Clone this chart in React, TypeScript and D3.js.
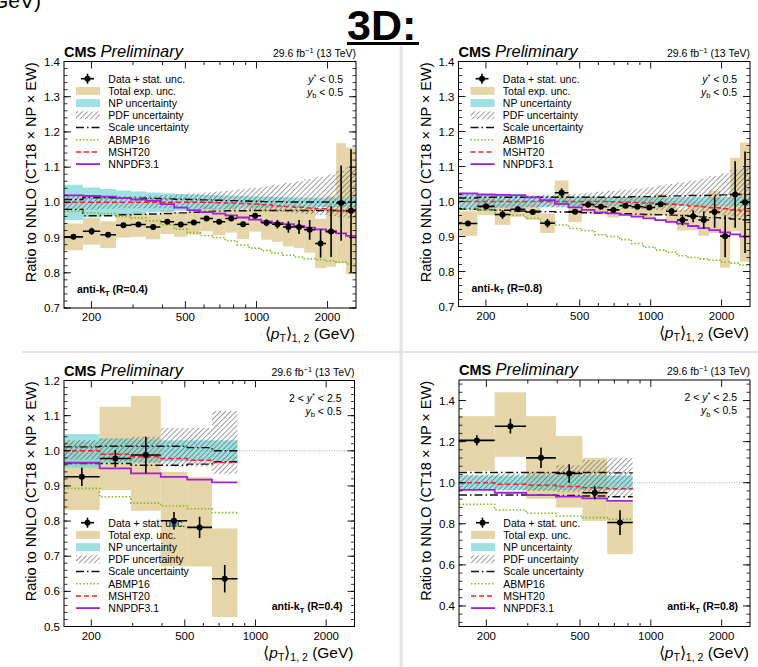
import React from 'react';
import * as d3 from 'd3';

const FONT = "'Liberation Sans', Arial, Helvetica, sans-serif";

// ---------- binning (GeV) ----------
const X_DOMAIN = [153, 2640];
const EDGES_TOP = [153, 184, 218, 254, 294, 340, 392, 448, 510, 578, 654, 738, 828, 931, 1046, 1163, 1294, 1440, 1593, 1772, 1971, 2176, 2396, 2640];
const EDGES_BOT = [153, 217, 295, 395, 512, 653, 838];
const X_TICKS = [200, 300, 400, 500, 600, 700, 800, 900, 1000, 2000];
const X_LABELS = [200, 500, 1000, 2000];
const LEGEND_LABELS = ['Data + stat. unc.', 'Total exp. unc.', 'NP uncertainty', 'PDF uncertainty', 'Scale uncertainty', 'ABMP16', 'MSHT20', 'NNPDF3.1'];

// ---------- top-left: y*<0.5, yb<0.5, R=0.4 ----------
const TL_DATA = [0.902, 0.918, 0.908, 0.935, 0.937, 0.930, 0.945, 0.937, 0.943, 0.954, 0.945, 0.954, 0.938, 0.962, 0.942, 0.938, 0.930, 0.930, 0.922, 0.883, 0.917, 0.998, 0.976];
const TL_STAT = [0.006, 0.01, 0.006, 0.007, 0.007, 0.006, 0.006, 0.006, 0.006, 0.006, 0.006, 0.006, 0.006, 0.008, 0.01, 0.012, 0.016, 0.02, 0.028, 0.04, 0.072, 0.107, 0.175];
const TL_TOT = [0.038, 0.038, 0.038, 0.035, 0.035, 0.035, 0.035, 0.035, 0.035, 0.036, 0.038, 0.04, 0.042, 0.045, 0.048, 0.05, 0.055, 0.06, 0.065, 0.07, 0.1, 0.17, 0.18];
const TL_NP = [0.05, 0.042, 0.038, 0.034, 0.031, 0.028, 0.026, 0.024, 0.022, 0.021, 0.02, 0.019, 0.018, 0.017, 0.016, 0.015, 0.015, 0.014, 0.014, 0.013, 0.013, 0.013, 0.013];
const TL_PDF_UP = [1.022, 1.02, 1.018, 1.018, 1.018, 1.019, 1.02, 1.022, 1.025, 1.028, 1.031, 1.034, 1.037, 1.041, 1.045, 1.05, 1.055, 1.06, 1.066, 1.073, 1.08, 1.09, 1.1];
const TL_PDF_DN = [0.978, 0.98, 0.982, 0.983, 0.983, 0.983, 0.983, 0.983, 0.982, 0.981, 0.98, 0.979, 0.978, 0.977, 0.975, 0.973, 0.971, 0.969, 0.967, 0.964, 0.961, 0.958, 0.955];
const TL_SC_UP = [1.008, 1.013, 1.013, 1.012, 1.012, 1.011, 1.01, 1.009, 1.008, 1.007, 1.006, 1.005, 1.004, 1.003, 1.002, 1.002, 1.001, 1.001, 1.001, 1.001, 1.001, 1.001, 1.001];
const TL_SC_DN = [0.98, 0.962, 0.962, 0.965, 0.966, 0.967, 0.968, 0.97, 0.972, 0.974, 0.975, 0.976, 0.976, 0.977, 0.977, 0.977, 0.977, 0.977, 0.977, 0.977, 0.977, 0.977, 0.977];
const TL_ABMP = [0.975, 0.97, 0.968, 0.96, 0.956, 0.948, 0.936, 0.924, 0.914, 0.906, 0.9, 0.891, 0.879, 0.87, 0.863, 0.856, 0.85, 0.845, 0.84, 0.837, 0.834, 0.83, 0.825];
const TL_MSHT = [1.0, 1.0, 1.0, 1.0, 1.0, 1.0, 1.0, 1.0, 1.0, 1.0, 0.999, 0.998, 0.997, 0.995, 0.993, 0.99, 0.988, 0.986, 0.984, 0.982, 0.979, 0.976, 0.973];
const TL_NNPDF = [1.02, 1.018, 1.016, 1.012, 1.008, 1.004, 0.995, 0.985, 0.978, 0.972, 0.968, 0.963, 0.957, 0.951, 0.946, 0.942, 0.938, 0.933, 0.928, 0.923, 0.918, 0.912, 0.905];

// ---------- top-right: y*<0.5, yb<0.5, R=0.8 ----------
const TR_DATA = [0.937, 0.986, 0.963, 0.978, 0.970, 0.938, 1.025, 0.971, 0.991, 0.985, 0.976, 0.988, 0.985, 0.983, 0.992, 0.972, 0.947, 0.958, 0.947, 0.970, 0.901, 1.020, 0.998];
const TR_STAT = [0.006, 0.008, 0.012, 0.008, 0.008, 0.012, 0.013, 0.006, 0.006, 0.006, 0.006, 0.006, 0.006, 0.006, 0.007, 0.01, 0.015, 0.017, 0.025, 0.045, 0.06, 0.095, 0.145];
const TR_TOT = [0.035, 0.025, 0.03, 0.022, 0.022, 0.028, 0.035, 0.03, 0.025, 0.022, 0.022, 0.025, 0.03, 0.03, 0.03, 0.03, 0.03, 0.04, 0.045, 0.06, 0.09, 0.105, 0.17];
const TR_NP = [0.022, 0.02, 0.018, 0.017, 0.016, 0.015, 0.015, 0.014, 0.014, 0.013, 0.013, 0.013, 0.012, 0.012, 0.012, 0.012, 0.012, 0.012, 0.012, 0.012, 0.012, 0.012, 0.012];
const TR_PDF_UP = [1.022, 1.02, 1.018, 1.018, 1.018, 1.019, 1.02, 1.022, 1.025, 1.028, 1.031, 1.034, 1.037, 1.041, 1.045, 1.05, 1.055, 1.06, 1.066, 1.073, 1.08, 1.09, 1.1];
const TR_PDF_DN = [0.978, 0.98, 0.982, 0.983, 0.983, 0.983, 0.983, 0.983, 0.982, 0.981, 0.98, 0.979, 0.978, 0.977, 0.975, 0.973, 0.971, 0.969, 0.967, 0.964, 0.961, 0.958, 0.955];
const TR_SC_UP = [1.01, 1.012, 1.012, 1.012, 1.012, 1.012, 1.012, 1.012, 1.012, 1.012, 1.012, 1.013, 1.014, 1.014, 1.015, 1.016, 1.016, 1.017, 1.017, 1.018, 1.019, 1.02, 1.021];
const TR_SC_DN = [0.978, 0.976, 0.975, 0.973, 0.972, 0.971, 0.97, 0.969, 0.968, 0.967, 0.966, 0.965, 0.964, 0.963, 0.962, 0.961, 0.96, 0.958, 0.956, 0.954, 0.952, 0.95, 0.948];
const TR_ABMP = [0.977, 0.975, 0.962, 0.961, 0.952, 0.942, 0.933, 0.923, 0.917, 0.905, 0.9, 0.891, 0.88, 0.87, 0.861, 0.855, 0.845, 0.84, 0.836, 0.832, 0.827, 0.824, 0.818];
const TR_MSHT = [1.0, 1.0, 1.0, 1.0, 1.0, 1.0, 1.0, 1.0, 1.0, 1.0, 0.999, 0.998, 0.997, 0.996, 0.994, 0.992, 0.99, 0.987, 0.985, 0.982, 0.979, 0.976, 0.972];
const TR_NNPDF = [1.023, 1.02, 1.019, 1.018, 1.012, 1.004, 0.993, 0.983, 0.976, 0.969, 0.966, 0.962, 0.957, 0.952, 0.947, 0.942, 0.937, 0.93, 0.924, 0.918, 0.912, 0.906, 0.9];

// ---------- bottom-left: 2<y*<2.5, yb<0.5, R=0.4 ----------
const BL_DATA = [0.926, 0.978, 0.988, 0.801, 0.782, 0.636];
const BL_STAT = [0.026, 0.024, 0.052, 0.025, 0.03, 0.039];
const BL_TOT_UP = [0.1, 0.147, 0.168, 0.139, 0.143, 0.143];
const BL_TOT_DN = [0.095, 0.09, 0.159, 0.13, 0.111, 0.109];
const BL_NP = [0.048, 0.035, 0.032, 0.03, 0.03, 0.03];
const BL_PDF_UP = [1.03, 1.035, 1.04, 1.065, 1.065, 1.113];
const BL_PDF_DN = [0.975, 0.97, 0.965, 0.955, 0.955, 0.935];
const BL_SC_UP = [1.011, 1.013, 1.013, 1.013, 1.009, 1.0];
const BL_SC_DN = [0.964, 0.964, 0.959, 0.959, 0.962, 0.969];
const BL_ABMP = [0.893, 0.869, 0.851, 0.843, 0.835, 0.824];
const BL_MSHT = [1.0, 0.99, 0.983, 0.978, 0.973, 0.967];
const BL_NNPDF = [0.966, 0.95, 0.936, 0.926, 0.918, 0.91];

// ---------- bottom-right: 2<y*<2.5, yb<0.5, R=0.8 ----------
const BR_DATA = [1.206, 1.275, 1.121, 1.045, 0.951, 0.806];
const BR_STAT = [0.025, 0.036, 0.05, 0.045, 0.032, 0.06];
const BR_TOT_UP = [0.118, 0.165, 0.203, 0.182, 0.17, 0.1];
const BR_TOT_DN = [0.149, 0.149, 0.2, 0.166, 0.137, 0.154];
const BR_NP = [0.035, 0.035, 0.035, 0.035, 0.035, 0.035];
const BR_PDF_UP = [1.04, 1.045, 1.05, 1.085, 1.11, 1.12];
const BR_PDF_DN = [0.965, 0.962, 0.96, 0.955, 0.945, 0.93];
const BR_SC_UP = [1.05, 1.05, 1.05, 1.05, 1.05, 1.048];
const BR_SC_DN = [0.94, 0.94, 0.94, 0.938, 0.935, 0.932];
const BR_ABMP = [0.895, 0.867, 0.851, 0.838, 0.83, 0.822];
const BR_MSHT = [1.0, 0.992, 0.988, 0.982, 0.975, 0.97];
const BR_NNPDF = [0.965, 0.951, 0.94, 0.932, 0.924, 0.912];

const C_TAN = '#e6d5a9';
const C_CYAN = 'rgba(118,211,215,0.7)';
const C_GREEN = '#7dbd1e';
const C_RED = '#ff1f1f';
const C_PURPLE = '#a41fdc';
const DASHDOT = '8,3,1.5,3';

function mkPanel(layout, d) {
  return { ...layout, ...d };
}

const PANELS = [
  mkPanel({ x0: 64, x1: 356, y0: 61.5, y1: 308, yLo: 0.7, yHi: 1.4, yMaj0: 0.7, yMaj: 0.1, yMin: 0.02, legY: 78.7, fwd: false, R: '0.4', jetLeft: true },
    { edges: EDGES_TOP, data: TL_DATA, stat: TL_STAT, totUp: TL_TOT, totDn: TL_TOT, np: TL_NP, pdfUp: TL_PDF_UP, pdfDn: TL_PDF_DN, scUp: TL_SC_UP, scDn: TL_SC_DN, abmp: TL_ABMP, msht: TL_MSHT, nnpdf: TL_NNPDF }),
  mkPanel({ x0: 458.5, x1: 750, y0: 61.5, y1: 306.5, yLo: 0.7, yHi: 1.4, yMaj0: 0.7, yMaj: 0.1, yMin: 0.02, legY: 78.7, fwd: false, R: '0.8', jetLeft: true },
    { edges: EDGES_TOP, data: TR_DATA, stat: TR_STAT, totUp: TR_TOT, totDn: TR_TOT, np: TR_NP, pdfUp: TR_PDF_UP, pdfDn: TR_PDF_DN, scUp: TR_SC_UP, scDn: TR_SC_DN, abmp: TR_ABMP, msht: TR_MSHT, nnpdf: TR_NNPDF }),
  mkPanel({ x0: 64, x1: 354.5, y0: 380.5, y1: 626.5, yLo: 0.5, yHi: 1.2, yMaj0: 0.5, yMaj: 0.1, yMin: 0.02, legY: 522.7, fwd: true, R: '0.4', jetLeft: false },
    { edges: EDGES_BOT, data: BL_DATA, stat: BL_STAT, totUp: BL_TOT_UP, totDn: BL_TOT_DN, np: BL_NP, pdfUp: BL_PDF_UP, pdfDn: BL_PDF_DN, scUp: BL_SC_UP, scDn: BL_SC_DN, abmp: BL_ABMP, msht: BL_MSHT, nnpdf: BL_NNPDF }),
  mkPanel({ x0: 459, x1: 750, y0: 380, y1: 626.5, yLo: 0.3, yHi: 1.5, yMaj0: 0.4, yMaj: 0.2, yMin: 0.04, legY: 522.7, fwd: true, R: '0.8', jetLeft: false },
    { edges: EDGES_BOT, data: BR_DATA, stat: BR_STAT, totUp: BR_TOT_UP, totDn: BR_TOT_DN, np: BR_NP, pdfUp: BR_PDF_UP, pdfDn: BR_PDF_DN, scUp: BR_SC_UP, scDn: BR_SC_DN, abmp: BR_ABMP, msht: BR_MSHT, nnpdf: BR_NNPDF }),
];

function seq(start, end, step) {
  const out = [];
  for (let k = 0; ; k++) {
    const v = start + k * step;
    if (v > end + 1e-9) break;
    out.push(+v.toFixed(6));
  }
  return out;
}

function Panel({ c, id }) {
  const x = d3.scaleLog().domain(X_DOMAIN).range([c.x0, c.x1]);
  const y = d3.scaleLinear().domain([c.yLo, c.yHi]).range([c.y1, c.y0]);
  const E = c.edges;
  const at = (arr, i) => arr[Math.min(i, arr.length - 1)];
  const stepLine = (vals) => d3.line().curve(d3.curveStepAfter)(E.map((e, i) => [x(e), y(at(vals, i))]));
  const stepArea = (lo, hi) =>
    d3.area().curve(d3.curveStepAfter).x((d) => d[0]).y0((d) => d[1]).y1((d) => d[2])(
      E.map((e, i) => [x(e), y(at(lo, i)), y(at(hi, i))])
    );
  const npLo = c.np.map((v) => 1 - v);
  const npHi = c.np.map((v) => 1 + v);
  const majors = seq(c.yMaj0, c.yHi, c.yMaj);
  const minStart = c.yMaj0 - Math.floor((c.yMaj0 - c.yLo) / c.yMin + 1e-6) * c.yMin;
  const minors = seq(minStart, c.yHi, c.yMin);
  const clip = 'clip' + id;
  const fmt = d3.format('.1f');
  const W = c.x1 - c.x0;
  const legX = c.x0;

  return (
    <g>
      <defs>
        <clipPath id={clip}>
          <rect x={c.x0} y={c.y0} width={W} height={c.y1 - c.y0} />
        </clipPath>
      </defs>
      <g clipPath={`url(#${clip})`}>
        <line x1={c.x0} x2={c.x1} y1={y(1)} y2={y(1)} stroke="#999" strokeWidth={0.8} strokeDasharray="1,1.5" />
        {c.data.map((v, i) => (
          <rect key={'t' + i} x={x(E[i])} width={x(E[i + 1]) - x(E[i])} y={y(v + c.totUp[i])} height={y(v - c.totDn[i]) - y(v + c.totUp[i])} fill={C_TAN} />
        ))}
        <path d={stepArea(npLo, npHi)} fill={C_CYAN} />
        <path d={stepArea(c.pdfDn, c.pdfUp)} fill="url(#hatch)" />
        <path d={stepLine(c.scUp)} fill="none" stroke="#111" strokeWidth={1.4} strokeDasharray={DASHDOT} />
        <path d={stepLine(c.scDn)} fill="none" stroke="#111" strokeWidth={1.4} strokeDasharray={DASHDOT} />
        <path d={stepLine(c.abmp)} fill="none" stroke={C_GREEN} strokeWidth={1.6} strokeDasharray="1.5,2" />
        <path d={stepLine(c.msht)} fill="none" stroke={C_RED} strokeWidth={1.5} strokeDasharray="5,3" />
        <path d={stepLine(c.nnpdf)} fill="none" stroke={C_PURPLE} strokeWidth={1.8} />
        {c.data.map((v, i) => {
          const xa = x(E[i]);
          const xb = x(E[i + 1]);
          const xc = x(Math.sqrt(E[i] * E[i + 1]));
          return (
            <g key={'d' + i}>
              <line x1={xa} x2={xb} y1={y(v)} y2={y(v)} stroke="#000" strokeWidth={1.6} />
              <line x1={xc} x2={xc} y1={y(v - c.stat[i])} y2={y(v + c.stat[i])} stroke="#000" strokeWidth={1.6} />
              <circle cx={xc} cy={y(v)} r={3} fill="#000" />
            </g>
          );
        })}
      </g>
      {/* frame */}
      <rect x={c.x0} y={c.y0} width={W} height={c.y1 - c.y0} fill="none" stroke="#000" strokeWidth={1} />
      {minors.map((v) => (
        <g key={'mi' + v}>
          <line x1={c.x0} x2={c.x0 + 3.5} y1={y(v)} y2={y(v)} stroke="#000" strokeWidth={0.8} />
          <line x1={c.x1} x2={c.x1 - 3.5} y1={y(v)} y2={y(v)} stroke="#000" strokeWidth={0.8} />
        </g>
      ))}
      {majors.map((v) => (
        <g key={'ma' + v}>
          <line x1={c.x0} x2={c.x0 + 7} y1={y(v)} y2={y(v)} stroke="#000" strokeWidth={0.9} />
          <line x1={c.x1} x2={c.x1 - 7} y1={y(v)} y2={y(v)} stroke="#000" strokeWidth={0.9} />
          <text x={c.x0 - 4} y={y(v) + 4} fontSize={11.5} textAnchor="end">{fmt(v)}</text>
        </g>
      ))}
      {X_TICKS.map((t) => {
        const L = X_LABELS.includes(t) ? 7 : 3.5;
        return (
          <g key={'xt' + t}>
            <line x1={x(t)} x2={x(t)} y1={c.y1} y2={c.y1 - L} stroke="#000" strokeWidth={0.9} />
            <line x1={x(t)} x2={x(t)} y1={c.y0} y2={c.y0 + L} stroke="#000" strokeWidth={0.9} />
          </g>
        );
      })}
      {X_LABELS.map((t) => (
        <text key={'xl' + t} x={x(t)} y={c.y1 + 13} fontSize={11.5} textAnchor="middle">{t}</text>
      ))}
      {/* axis titles */}
      <text transform={`translate(${c.x0 - 28},${c.y0 + 1}) rotate(-90)`} fontSize={14.5} textAnchor="end">
        Ratio to NNLO (CT18 × NP × EW)
      </text>
      <text x={c.x1 - 1} y={c.y1 + 31} fontSize={15.5} textAnchor="end">
        ⟨<tspan fontStyle="italic">p</tspan><tspan fontSize={10.5} dy={3}>T</tspan><tspan dy={-3}>⟩</tspan><tspan fontSize={10.5} dy={3}>1, 2</tspan><tspan dy={-3}> (GeV)</tspan>
      </text>
      {/* CMS label */}
      <text x={c.x0} y={c.y0 - 5} fontSize={14.5} fontWeight="bold">CMS</text>
      <text x={c.x0 + 36.5} y={c.y0 - 5} fontSize={16.5} fontStyle="italic">Preliminary</text>
      <text x={c.x1} y={c.y0 - 5} fontSize={10.5} textAnchor="end">
        29.6 fb<tspan fontSize={7.5} dy={-4}>−1</tspan><tspan dy={4}> (13 TeV)</tspan>
      </text>
      {/* rapidity */}
      <text x={c.x1 - 13} y={c.y0 + 21} fontSize={10.5} textAnchor="end">
        {c.fwd ? '2 < ' : ''}<tspan fontStyle="italic">y</tspan><tspan fontSize={7.5} dy={-4}>*</tspan><tspan dy={4}>{c.fwd ? ' < 2.5' : ' < 0.5'}</tspan>
      </text>
      <text x={c.x1 - 13} y={c.y0 + 34} fontSize={10.5} textAnchor="end">
        <tspan fontStyle="italic">y</tspan><tspan fontSize={7.5} dy={2.5}>b</tspan><tspan dy={-2.5}> &lt; 0.5</tspan>
      </text>
      <text x={c.jetLeft ? c.x0 + 13 : c.x1 - 12} y={c.jetLeft ? c.y1 - 15 : c.y1 - 16.5} fontSize={10.5} fontWeight="bold" textAnchor={c.jetLeft ? 'start' : 'end'}>
        anti-k<tspan fontSize={7.5} dy={2.5}>T</tspan><tspan dy={-2.5}>{` (R=${c.R})`}</tspan>
      </text>
      {/* legend */}
      {LEGEND_LABELS.map((lab, i) => {
        const yc = c.legY + i * 12.2;
        let sym = null;
        if (i === 0) {
          sym = (
            <g>
              <line x1={legX + 17} x2={legX + 30} y1={yc} y2={yc} stroke="#000" strokeWidth={1.6} />
              <line x1={legX + 23.5} x2={legX + 23.5} y1={yc - 5} y2={yc + 5} stroke="#000" strokeWidth={1.6} />
              <circle cx={legX + 23.5} cy={yc} r={3} fill="#000" />
            </g>
          );
        } else if (i === 1) sym = <rect x={legX + 12} y={yc - 4} width={24} height={8} fill={C_TAN} />;
        else if (i === 2) sym = <rect x={legX + 12} y={yc - 4} width={24} height={8} fill={C_CYAN} />;
        else if (i === 3) sym = <rect x={legX + 12} y={yc - 4} width={24} height={8} fill="url(#hatch)" />;
        else {
          const st = [
            { s: '#111', d: DASHDOT, w: 1.4 },
            { s: C_GREEN, d: '1.5,2', w: 1.6 },
            { s: C_RED, d: '5,3', w: 1.5 },
            { s: C_PURPLE, d: null, w: 1.8 },
          ][i - 4];
          sym = <line x1={legX + 12} x2={legX + 36} y1={yc} y2={yc} stroke={st.s} strokeWidth={st.w} strokeDasharray={st.d || undefined} />;
        }
        return (
          <g key={'lg' + i}>
            {sym}
            <text x={legX + 44.3} y={yc + 3.8} fontSize={10.5}>{lab}</text>
          </g>
        );
      })}
    </g>
  );
}

export default function App() {
  return (
    <svg width={758} height={667} style={{ position: 'absolute', left: 0, top: 0, background: '#fff' }} fontFamily={FONT}>
      <defs>
        <pattern id="hatch" patternUnits="userSpaceOnUse" width={3.6} height={3.6} patternTransform="rotate(45)">
          <line x1={0} y1={0} x2={0} y2={3.6} stroke="#505050" strokeWidth={1.1} />
        </pattern>
      </defs>
      <rect x={0} y={0} width={758} height={667} fill="#fff" />
      <text x={41} y={8} fontSize={21} textAnchor="end">GeV)</text>
      <text x={347} y={39.5} fontSize={43} fontWeight="bold">3D:</text>
      <line x1={347} x2={419} y1={43.5} y2={43.5} stroke="#000" strokeWidth={3} />
      <rect x={22} y={351} width={736} height={2} fill="#e4e4e4" />
      <rect x={399.5} y={46} width={3} height={621} fill="#e4e4e4" />
      {PANELS.map((c, i) => (
        <Panel key={i} c={c} id={i} />
      ))}
    </svg>
  );
}
